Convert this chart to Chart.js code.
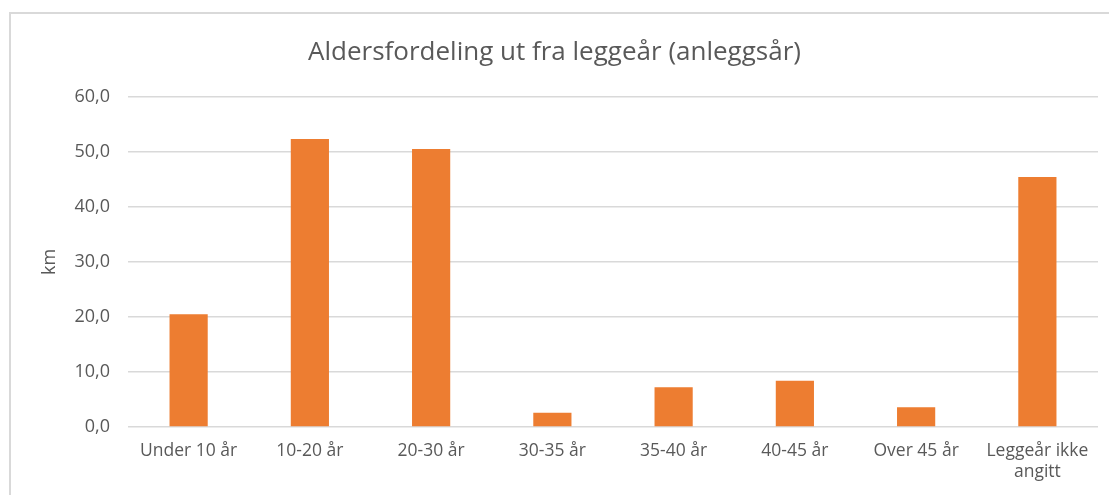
<!DOCTYPE html>
<html>
<head>
<meta charset="utf-8">
<script src="https://cdn.jsdelivr.net/npm/chart.js@4"></script>
<style>
  html, body { margin: 0; padding: 0; background: #fff; overflow: hidden; }
  #frame {
    position: absolute;
    left: 9px;
    top: 12px;
    width: 1098px;
    height: 481px;
    border-left: 2px solid #d9d9d9;
    border-top: 2px solid #d9d9d9;
  }
</style>
</head>
<body>
<div id="frame"><canvas id="chart"></canvas></div>
<script>
// Chart data
const categories = [
  "Under 10 år", "10-20 år", "20-30 år", "30-35 år",
  "35-40 år", "40-45 år", "Over 45 år", ["Leggeår ikke", "angitt"]
];
const kmValues = [20.5, 52.3, 50.5, 2.6, 7.2, 8.4, 3.6, 45.4];
const yTicks = [0, 10, 20, 30, 40, 50, 60];

const textColor = "#595959";
const gridColor = "#d9d9d9";
const fontFamily = "'Open Sans', sans-serif";

const ctx = document.getElementById("chart").getContext("2d");

new Chart(ctx, {
  type: "bar",
  data: {
    labels: categories,
    datasets: [
      {
        label: "km",
        data: kmValues,
        backgroundColor: "#ED7D31",
        barPercentage: 0.315,
        categoryPercentage: 1,
      },
    ],
  },
  options: {
    responsive: true,
    maintainAspectRatio: false,
    animation: false,
    layout: { padding: { left: 0, right: 11, top: 0, bottom: 0 } },
    plugins: {
      legend: { display: false },
      tooltip: { enabled: false },
      title: {
        display: true,
        text: "Aldersfordeling ut fra leggeår (anleggsår)",
        color: textColor,
        font: { family: fontFamily, size: 26, weight: "normal" },
        padding: { top: 23, bottom: 28.5 },
      },
    },
    scales: {
      x: {
        grid: { display: false, drawTicks: false },
        border: { display: false },
        ticks: {
          color: textColor,
          font: { family: fontFamily, size: 17.5 },
          padding: 14,
          maxRotation: 0,
          autoSkip: false,
        },
        afterFit: (scale) => { scale.height = 68; },
      },
      y: {
        min: 0,
        max: 60,
        afterBuildTicks: (scale) => {
          scale.ticks = yTicks.map((v) => ({ value: v }));
        },
        grid: { color: gridColor, lineWidth: 1.5, drawTicks: false },
        border: { display: false },
        ticks: {
          color: textColor,
          font: { family: fontFamily, size: 18 },
          padding: 18,
          callback: (value) => value.toFixed(1).replace(".", ","),
        },
        title: {
          display: true,
          text: "km",
          color: textColor,
          font: { family: fontFamily, size: 18 },
          padding: { top: 28, bottom: 0 },
        },
        afterFit: (scale) => { scale.width = 117; },
      },
    },
  },
});
</script>
</body>
</html>
